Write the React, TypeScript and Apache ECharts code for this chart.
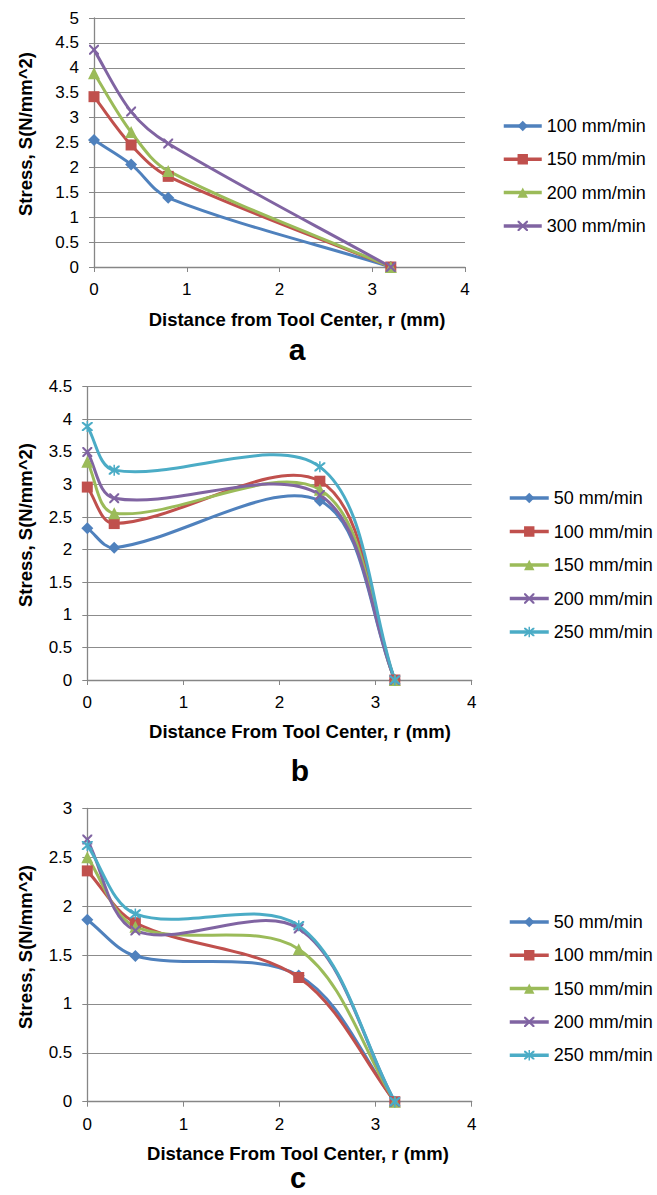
import React, { useEffect, useRef } from 'react';
import * as echarts from 'echarts';

// ---------------- Data ----------------
const xTickMax = 4;
const xTickStep = 1;

// Panel a
const distA = [0, 0.4, 0.8, 3.2];
const namesA = ['100 mm/min', '150 mm/min', '200 mm/min', '300 mm/min'];
const stressA100 = [2.55, 2.06, 1.39, 0];
const stressA150 = [3.42, 2.45, 1.82, 0];
const stressA200 = [3.89, 2.71, 1.93, 0];
const stressA300 = [4.36, 3.12, 2.48, 0];

// Panel b
const distB = [0, 0.28, 2.42, 3.2];
const namesB = ['50 mm/min', '100 mm/min', '150 mm/min', '200 mm/min', '250 mm/min'];
const stressB50 = [2.33, 2.03, 2.75, 0];
const stressB100 = [2.96, 2.4, 3.05, 0];
const stressB150 = [3.35, 2.56, 2.92, 0];
const stressB200 = [3.5, 2.79, 2.84, 0];
const stressB250 = [3.89, 3.22, 3.27, 0];

// Panel c
const distC = [0, 0.5, 2.2, 3.2];
const namesC = ['50 mm/min', '100 mm/min', '150 mm/min', '200 mm/min', '250 mm/min'];
const stressC50 = [1.86, 1.49, 1.29, 0];
const stressC100 = [2.36, 1.83, 1.27, 0];
const stressC150 = [2.5, 1.79, 1.56, 0];
const stressC200 = [2.68, 1.75, 1.77, 0];
const stressC250 = [2.62, 1.92, 1.8, 0];

// ---------------- Styles ----------------
const FONT = '"Liberation Sans", Arial, Helvetica, sans-serif';
const COLORS = ['#4F81BD', '#C0504D', '#9BBB59', '#8064A2', '#4BACC6'];
const SYM_X =
  'path://M0,0L3,0L10,7L17,0L20,0L20,3L13,10L20,17L20,20L17,20L10,13L3,20L0,20L0,17L7,10L0,3Z';
const SYM_AST =
  'path://M0,0L3,0L10,7L17,0L20,0L20,3L13,10L20,17L20,20L17,20L10,13L3,20L0,20L0,17L7,10L0,3Z M8.6,-2L11.4,-2L11.4,22L8.6,22Z';
const SYMBOLS = ['diamond', 'rect', 'triangle', SYM_X, SYM_AST];
const SYMBOLS_A = ['diamond', 'rect', 'triangle', SYM_X];
const SIZES = [12, 11, 12, 10, 11];
const AXIS_COLOR = '#868686';
const GRID_COLOR = '#8C8C8C';

function curveSeries(name: string, pts: number[][], color: string) {
  return {
    type: 'custom',
    name: name + ' curve',
    coordinateSystem: 'cartesian2d',
    data: pts,
    encode: { x: 0, y: 1 },
    silent: true,
    clip: false,
    z: 2,
    renderItem: (params: any, api: any) => {
      const i = params.dataIndex;
      const n = pts.length;
      if (i >= n - 1) return null;
      const P = pts.map((p) => api.coord(p));
      const dist = (a: number[], b: number[]) => Math.hypot(b[0] - a[0], b[1] - a[1]);
      const k = 1 / 3;
      const p0 = P[i];
      const p1 = P[i + 1];
      const seg = dist(p0, p1);
      let t0: number[];
      let t1: number[];
      if (i === 0) {
        t0 = [(p1[0] - p0[0]) * k, (p1[1] - p0[1]) * k];
      } else {
        const pp = P[i - 1];
        const r = seg / (dist(pp, p0) + seg);
        t0 = [(p1[0] - pp[0]) * r * k, (p1[1] - pp[1]) * r * k];
      }
      if (i + 1 === n - 1) {
        t1 = [(p1[0] - p0[0]) * k, (p1[1] - p0[1]) * k];
      } else {
        const pn = P[i + 2];
        const r = seg / (seg + dist(p1, pn));
        t1 = [(pn[0] - p0[0]) * r * k, (pn[1] - p0[1]) * r * k];
      }
      return {
        type: 'bezierCurve',
        shape: {
          x1: p0[0],
          y1: p0[1],
          x2: p1[0],
          y2: p1[1],
          cpx1: p0[0] + t0[0],
          cpy1: p0[1] + t0[1],
          cpx2: p1[0] - t1[0],
          cpy2: p1[1] - t1[1],
        },
        style: { stroke: color, lineWidth: 3, fill: 'none', lineCap: 'round' },
      };
    },
  };
}

function markerSeries(name: string, pts: number[][], color: string, symbol: string, size: number) {
  return {
    type: 'line',
    name,
    data: pts,
    symbol,
    symbolSize: size,
    showSymbol: true,
    showAllSymbol: true,
    silent: true,
    clip: false,
    z: 2,
    itemStyle: { color, borderWidth: 0 },
    lineStyle: { color, width: 3, opacity: 0 },
    emphasis: { disabled: true },
  };
}

type Spec = {
  grid: { left: number; top: number; width: number; height: number };
  yMax: number;
  xs: number[];
  names: string[];
  values: number[][];
  symbols: string[];
  legend: { left: number; top: number; itemWidth: number; itemGap: number };
  yName: { x: number; y: number };
  xName: { x: number; y: number; text: string };
  title: { x: number; y: number; text: string; size: number };
};

function buildOption(s: Spec) {
  const series: any[] = [];
  s.names.forEach((name, i) => {
    const pts = s.xs.map((x, j) => [x, s.values[i][j]]);
    series.push(curveSeries(name, pts, COLORS[i]));
    series.push(markerSeries(name, pts, COLORS[i], s.symbols[i], SIZES[i]));
  });
  return {
    animation: false,
    backgroundColor: '#ffffff',
    grid: { ...s.grid, containLabel: false },
    xAxis: {
      type: 'value',
      min: 0,
      max: xTickMax,
      interval: xTickStep,
      axisLine: { show: true, lineStyle: { color: AXIS_COLOR, width: 1.3 } },
      axisTick: { show: true, length: 5, lineStyle: { color: AXIS_COLOR, width: 1 } },
      splitLine: { show: false },
      axisLabel: { fontSize: 17, color: '#000', margin: 14, fontFamily: FONT },
    },
    yAxis: {
      type: 'value',
      min: 0,
      max: s.yMax,
      interval: 0.5,
      axisLine: { show: true, lineStyle: { color: AXIS_COLOR, width: 1.3 } },
      axisTick: { show: true, length: 5, lineStyle: { color: AXIS_COLOR, width: 1 } },
      splitLine: { show: true, lineStyle: { color: GRID_COLOR, width: 1 } },
      axisLabel: { fontSize: 17, color: '#000', margin: 15, fontFamily: FONT },
    },
    legend: {
      orient: 'vertical',
      left: s.legend.left,
      top: s.legend.top,
      itemWidth: s.legend.itemWidth,
      itemHeight: 13,
      itemGap: s.legend.itemGap,
      selectedMode: false,
      textStyle: { fontSize: 18, color: '#000', fontFamily: FONT, lineHeight: 20 },
      data: s.names.map((name, i) => ({
        name,
        itemStyle: { color: COLORS[i] },
        lineStyle: { color: COLORS[i], width: 3.5, opacity: 1 },
      })),
    },
    graphic: [
      {
        type: 'text',
        x: s.yName.x,
        y: s.yName.y,
        rotation: Math.PI / 2,
        style: {
          text: 'Stress, S(N/mm^2)',
          fontSize: 18.5,
          fontWeight: 'bold',
          fontFamily: FONT,
          fill: '#000',
          align: 'center',
          verticalAlign: 'middle',
        },
      },
      {
        type: 'text',
        x: s.xName.x,
        y: s.xName.y,
        style: {
          text: s.xName.text,
          fontSize: 18.5,
          fontWeight: 'bold',
          fontFamily: FONT,
          fill: '#000',
          align: 'center',
          verticalAlign: 'middle',
        },
      },
      {
        type: 'text',
        x: s.title.x,
        y: s.title.y,
        style: {
          text: s.title.text,
          fontSize: s.title.size,
          lineHeight: 24,
          fontWeight: 'bold',
          fontFamily: FONT,
          fill: '#000',
          align: 'center',
          verticalAlign: 'middle',
        },
      },
    ],
    series,
  };
}

function Panel({ top, height, spec }: { top: number; height: number; spec: Spec }) {
  const ref = useRef<HTMLDivElement>(null);
  useEffect(() => {
    if (!ref.current) return;
    const chart = echarts.init(ref.current, null, { renderer: 'svg' });
    chart.setOption(buildOption(spec) as any);
    return () => chart.dispose();
  }, []);
  return (
    <div
      ref={ref}
      style={{ position: 'absolute', left: 0, top, width: 657, height }}
    />
  );
}

const specA: Spec = {
  grid: { left: 94, top: 18, width: 371, height: 249 },
  yMax: 5,
  xs: distA,
  names: namesA,
  values: [stressA100, stressA150, stressA200, stressA300],
  symbols: SYMBOLS_A,
  legend: { left: 497, top: 111, itemWidth: 38, itemGap: 13.3 },
  yName: { x: 25, y: 134 },
  xName: { x: 297, y: 319, text: 'Distance from Tool Center, r (mm)' },
  title: { x: 297, y: 349, text: 'a', size: 30 },
};

const specB: Spec = {
  grid: { left: 87.3, top: 21.7, width: 384.4, height: 293.3 },
  yMax: 4.5,
  xs: distB,
  names: namesB,
  values: [stressB50, stressB100, stressB150, stressB200, stressB250],
  symbols: SYMBOLS,
  legend: { left: 503, top: 118, itemWidth: 39, itemGap: 13.5 },
  yName: { x: 25, y: 160 },
  xName: { x: 300, y: 366.7, text: 'Distance From Tool Center, r (mm)' },
  title: { x: 300, y: 405, text: 'b', size: 30 },
};

const specC: Spec = {
  grid: { left: 87.3, top: 18.3, width: 384.4, height: 293.4 },
  yMax: 3,
  xs: distC,
  names: namesC,
  values: [stressC50, stressC100, stressC150, stressC200, stressC250],
  symbols: SYMBOLS,
  legend: { left: 503, top: 117, itemWidth: 39, itemGap: 13.3 },
  yName: { x: 25, y: 157 },
  xName: { x: 298, y: 363, text: 'Distance From Tool Center, r (mm)' },
  title: { x: 298, y: 388, text: 'c', size: 29 },
};

export default function App() {
  return (
    <div
      style={{
        position: 'absolute',
        left: 0,
        top: 0,
        width: 657,
        height: 1195,
        background: '#ffffff',
        overflow: 'hidden',
      }}
    >
      <Panel top={0} height={365} spec={specA} />
      <Panel top={365} height={425} spec={specB} />
      <Panel top={790} height={405} spec={specC} />
    </div>
  );
}
